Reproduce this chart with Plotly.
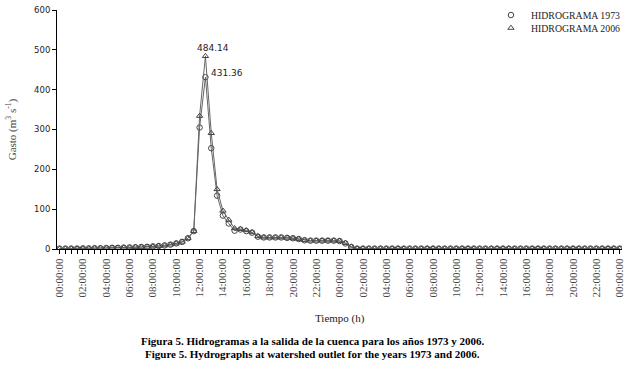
import plotly.graph_objects as go

# time in hours (every 30 min over 48 h)
hours = [i * 0.5 for i in range(97)]

tick_labels = ["00:00:00", "02:00:00", "04:00:00", "06:00:00", "08:00:00", "10:00:00",
               "12:00:00", "14:00:00", "16:00:00", "18:00:00", "20:00:00", "22:00:00",
               "00:00:00", "02:00:00", "04:00:00", "06:00:00", "08:00:00", "10:00:00",
               "12:00:00", "14:00:00", "16:00:00", "18:00:00", "20:00:00", "22:00:00",
               "00:00:00"]

rising = [1, 1, 1, 1, 1.5, 1.5, 2, 2, 2.5, 3, 3, 3.5, 4, 4.5, 5, 5.5,
          6.5, 7.5, 9, 11, 14, 18, 27, 45]
tail = [1] * 45

q1973 = rising + [305, 431.36, 253, 134, 84, 64, 46, 49, 45, 41, 31, 29,
                  29, 29, 29, 28, 27, 25, 22, 21, 21, 21, 21, 21, 20, 14, 5, 1] + tail
q2006 = rising + [334, 484.14, 291, 150, 96, 73, 52, 50, 47, 42, 32, 29,
                  29, 29, 29, 28, 27, 25, 22, 21, 21, 21, 21, 21, 20, 15, 6, 1] + tail

peak_labels = ["484.14", "431.36"]
series_names = ["HIDROGRAMA 1973", "HIDROGRAMA 2006"]

tickvals = hours
ticktext = [tick_labels[i // 4] if i % 4 == 0 else "" for i in range(len(hours))]

mk1973 = dict(symbol="circle-open", size=5.5, color="#444444", line=dict(width=1))
mk2006 = dict(symbol="triangle-up-open", size=5.5, color="#444444", line=dict(width=1))

fig = go.Figure()
fig.add_trace(go.Scatter(x=hours, y=q1973, mode="lines+markers", showlegend=False,
                         line=dict(color="#666666", width=1), marker=mk1973))
fig.add_trace(go.Scatter(x=hours, y=q2006, mode="lines+markers", showlegend=False,
                         line=dict(color="#666666", width=1), marker=mk2006))
# legend entries (markers only, as in the reference)
fig.add_trace(go.Scatter(x=[None], y=[None], mode="markers", name=series_names[0],
                         marker=mk1973, legend="legend"))
fig.add_trace(go.Scatter(x=[None], y=[None], mode="markers", name=series_names[1],
                         marker=mk2006, legend="legend2"))

i2006 = q2006.index(max(q2006))
i1973 = q1973.index(max(q1973))
fig.add_annotation(x=hours[i2006], y=q2006[i2006], text=peak_labels[0], showarrow=False,
                   yshift=8, xshift=8, font=dict(family="DejaVu Sans", size=9, color="#222"))
fig.add_annotation(x=hours[i1973], y=q1973[i1973], text=peak_labels[1], showarrow=False,
                   yshift=4, xshift=22, font=dict(family="DejaVu Sans", size=9, color="#222"))

fig.add_annotation(xref="paper", yref="paper", x=0.5, y=-0.289, yanchor="middle",
                   text="Tiempo (h)", showarrow=False,
                   font=dict(family="Liberation Serif", size=11, color="#222"))
fig.add_annotation(xref="paper", yref="paper", x=-0.08, y=0.5, textangle=-90,
                   xanchor="center", yanchor="middle",
                   text="Gasto (m<sup>3</sup> s<sup>-1</sup>)", showarrow=False,
                   font=dict(family="Liberation Serif", size=11, color="#444"))
fig.add_annotation(xref="paper", yref="paper", x=0.453, y=-0.385, yanchor="middle",
                   text="<b>Figura 5. Hidrogramas a la salida de la cuenca para los años 1973 y 2006.</b>",
                   showarrow=False, font=dict(family="Liberation Serif", size=11, color="#000"))
fig.add_annotation(xref="paper", yref="paper", x=0.453, y=-0.44, yanchor="middle",
                   text="<b>Figure 5. Hydrographs at watershed outlet for the years 1973 and 2006.</b>",
                   showarrow=False, font=dict(family="Liberation Serif", size=11, color="#000"))

leg_common = dict(xanchor="right", yanchor="middle", bgcolor="rgba(0,0,0,0)",
                  font=dict(family="Liberation Serif", size=9.8, color="#222"),
                  itemwidth=30, tracegroupgap=0)

fig.update_layout(
    width=634, height=367,
    margin=dict(l=57, r=12, t=10, b=118, autoexpand=False),
    paper_bgcolor="white", plot_bgcolor="white",
    showlegend=True,
    legend=dict(x=1.007, y=0.979, **leg_common),
    legend2=dict(x=1.007, y=0.925, **leg_common),
    xaxis=dict(range=[-0.22, 48.2], tickmode="array", tickvals=tickvals, ticktext=ticktext,
               tickangle=-90, ticks="outside", ticklen=4, tickcolor="black", automargin=False,
               showline=True, linecolor="black", linewidth=1, showgrid=False, zeroline=False,
               tickfont=dict(family="Liberation Serif", size=11, color="#444")),
    yaxis=dict(range=[0, 600], dtick=100, ticks="outside", ticklen=4, tickcolor="black",
               automargin=False,
               showline=True, linecolor="black", linewidth=1, showgrid=False, zeroline=False,
               tickfont=dict(family="DejaVu Sans", size=8.5, color="#222")),
)
# remove the default page margin so the figure fills the window exactly
fig.write_html("out.html", config={"displayModeBar": False},
               post_script="document.body.style.margin='0';")
